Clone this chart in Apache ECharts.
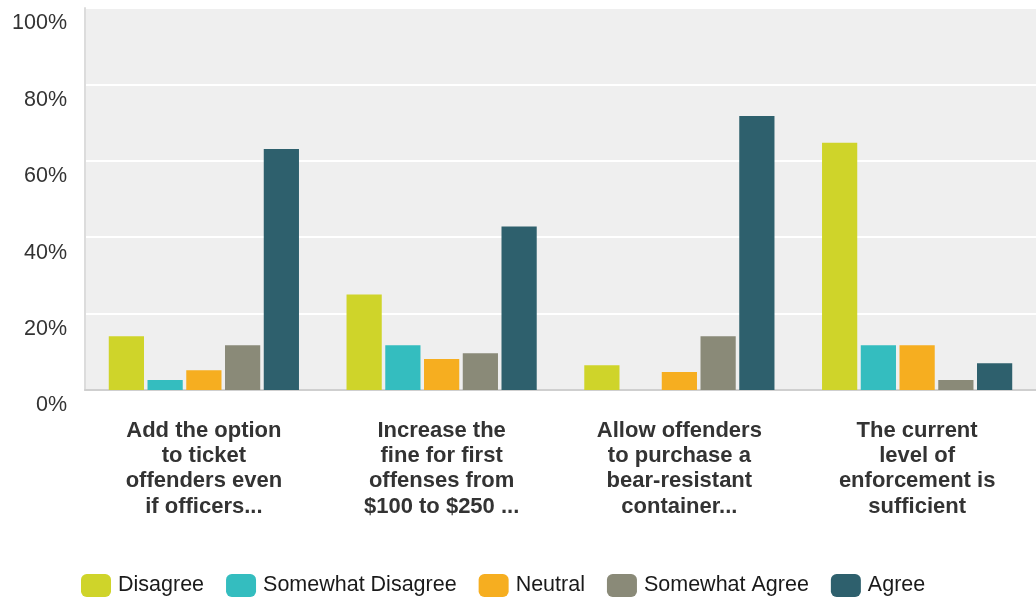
<!DOCTYPE html>
<html>
<head>
<meta charset="utf-8">
<script src="https://cdn.jsdelivr.net/npm/echarts@6/dist/echarts.min.js"></script>
<style>
html,body{margin:0;padding:0;background:#fff;}
#chart{width:1036px;height:597px;}
</style>
</head>
<body>
<div id="chart"></div>
<script>
const categories = [
  "Add the option\nto ticket\noffenders even\nif officers...",
  "Increase the\nfine for first\noffenses from\n$100 to $250 ...",
  "Allow offenders\nto purchase a\nbear-resistant\ncontainer...",
  "The current\nlevel of\nenforcement is\nsufficient"
];
const seriesNames = ["Disagree", "Somewhat Disagree", "Neutral", "Somewhat Agree", "Agree"];
const disagree = [14.1, 25.0, 6.5, 64.7];
const somewhatDisagree = [2.6, 11.7, 0, 11.7];
const neutral = [5.2, 8.1, 4.7, 11.7];
const somewhatAgree = [11.7, 9.6, 14.1, 2.6];
const agree = [63.1, 42.8, 71.7, 7.0];
const yTicks = [0, 20, 40, 60, 80, 100];

const colors = ["#cfd42a", "#34bdbf", "#f6ae20", "#8a8a78", "#2e606d"];
const values = [disagree, somewhatDisagree, neutral, somewhatAgree, agree];
const FONT = "'Liberation Sans', Arial, Helvetica, sans-serif";

const chart = echarts.init(document.getElementById('chart'));
chart.setOption({
  animation: false,
  color: colors,
  textStyle: { fontFamily: FONT },
  grid: {
    left: 85, right: 0, top: 8, bottom: 207,
    show: true, backgroundColor: '#efefef', borderWidth: 0
  },
  legend: {
    data: seriesNames,
    top: 569,
    left: 76,
    itemWidth: 30,
    itemHeight: 23,
    itemGap: 22,
    icon: 'roundRect',
    textStyle: { fontSize: 21.5, color: '#1a1a1a', fontFamily: FONT, padding: [0, 0, 0, 2] }
  },
  xAxis: {
    type: 'category',
    data: categories,
    axisTick: { show: false },
    axisLine: { show: true, lineStyle: { color: '#cfcfcf', width: 2 } },
    axisLabel: {
      interval: 0,
      margin: 28,
      fontSize: 22,
      fontWeight: 'bold',
      color: '#333333',
      lineHeight: 25.3,
      align: 'center',
      fontFamily: FONT
    }
  },
  yAxis: {
    type: 'value',
    min: yTicks[0],
    max: yTicks[yTicks.length - 1],
    interval: 20,
    axisLine: { show: true, lineStyle: { color: '#dcdcdc', width: 2 } },
    axisTick: { show: false },
    splitLine: { show: true, lineStyle: { color: '#ffffff', width: 2 } },
    axisLabel: {
      formatter: '{value}%',
      fontSize: 21.5,
      color: '#333333',
      margin: 18,
      verticalAlign: 'top',
      lineHeight: 21,
      padding: [5, 0, 0, 0],
      fontFamily: FONT
    }
  },
  series: seriesNames.map((name, i) => ({
    name: name,
    type: 'bar',
    data: values[i],
    barCategoryGap: '20%',
    barGap: '10%',
    itemStyle: { color: colors[i] }
  }))
});
</script>
</body>
</html>
